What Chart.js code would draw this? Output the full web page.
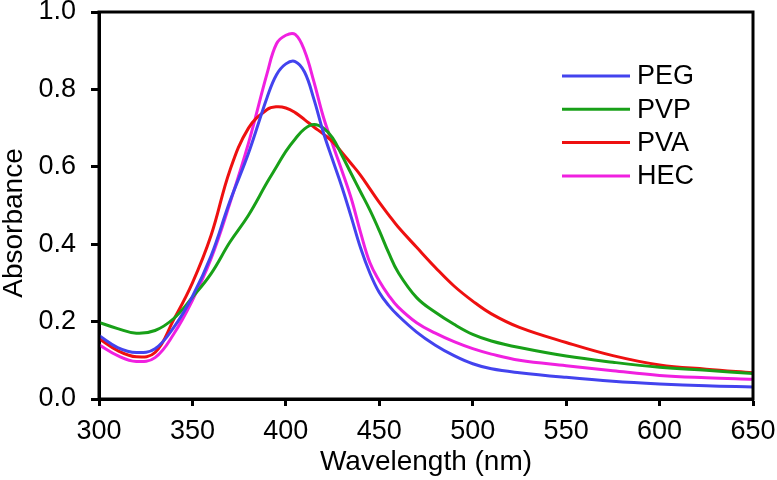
<!DOCTYPE html>
<html>
<head>
<meta charset="utf-8">
<script src="https://cdn.jsdelivr.net/npm/chart.js@4"></script>
<style>
  html, body { margin: 0; padding: 0; background: #fff; }
  #wrap { width: 777px; height: 480px; }
</style>
</head>
<body>
<div id="wrap"><canvas id="chart" width="777" height="480"></canvas></div>
<script>
// Longueurs d'onde (nm)
const wavelengths = [300, 310, 320, 330, 340, 350, 360, 370, 380, 390, 395, 400, 405, 410, 415, 420, 425, 430, 435, 440, 445, 450, 455, 460, 470, 480, 490, 500, 510, 525, 550, 575, 600, 625, 650];

// Absorbance par polymère
const peg = [0.164, 0.133, 0.120, 0.130, 0.185, 0.265, 0.370, 0.510, 0.635, 0.780, 0.838, 0.866, 0.872, 0.845, 0.775, 0.690, 0.618, 0.548, 0.470, 0.390, 0.325, 0.275, 0.242, 0.216, 0.173, 0.139, 0.112, 0.091, 0.078, 0.068, 0.056, 0.046, 0.039, 0.034, 0.031];
const pvp = [0.198, 0.182, 0.170, 0.177, 0.208, 0.263, 0.324, 0.405, 0.475, 0.560, 0.600, 0.640, 0.672, 0.698, 0.709, 0.700, 0.675, 0.630, 0.582, 0.535, 0.488, 0.435, 0.378, 0.328, 0.262, 0.224, 0.193, 0.167, 0.150, 0.133, 0.111, 0.095, 0.082, 0.074, 0.066];
const pva = [0.156, 0.125, 0.109, 0.120, 0.205, 0.300, 0.423, 0.590, 0.700, 0.748, 0.755, 0.752, 0.740, 0.722, 0.703, 0.685, 0.665, 0.637, 0.608, 0.578, 0.543, 0.508, 0.476, 0.445, 0.392, 0.340, 0.292, 0.253, 0.220, 0.185, 0.146, 0.112, 0.088, 0.077, 0.068];
const hec = [0.140, 0.112, 0.097, 0.107, 0.168, 0.255, 0.363, 0.505, 0.661, 0.842, 0.918, 0.940, 0.942, 0.900, 0.820, 0.730, 0.658, 0.590, 0.518, 0.430, 0.352, 0.305, 0.268, 0.238, 0.197, 0.170, 0.148, 0.130, 0.116, 0.100, 0.086, 0.073, 0.061, 0.055, 0.051];

const seriesLabels = ['PEG', 'PVP', 'PVA', 'HEC'];
const seriesColors = ['#4343ee', '#18a018', '#ee1010', '#f020e0'];
const seriesValues = [peg, pvp, pva, hec];

const yTicks = [0, 0.2, 0.4, 0.6, 0.8, 1.0];
const xTicks = [300, 350, 400, 450, 500, 550, 600, 650];

const FONT = "'Liberation Sans', Arial, sans-serif";

function toPoints(values) {
  return wavelengths.map((w, i) => ({ x: w, y: values[i] }));
}

// Cadre, titre de l'axe Y et légende
const framePlugin = {
  id: 'frame',
  afterDatasetsDraw(chart) {
    const { ctx, chartArea: a } = chart;
    ctx.save();
    ctx.strokeStyle = '#000';
    ctx.lineWidth = 3;
    ctx.strokeRect(a.left, a.top, a.right - a.left, a.bottom - a.top);

    // titre Y (décalé vers le bas comme dans l'original)
    ctx.fillStyle = '#000';
    ctx.font = '28px ' + FONT;
    ctx.textAlign = 'center';
    ctx.textBaseline = 'middle';
    ctx.translate(14, 223);
    ctx.rotate(-Math.PI / 2);
    ctx.fillText('Absorbance', 0, 0);
    ctx.restore();

    // légende
    ctx.save();
    ctx.font = '27px ' + FONT;
    ctx.textBaseline = 'middle';
    ctx.textAlign = 'left';
    chart.data.datasets.forEach((ds, i) => {
      const y = 76 + i * 33.3;
      ctx.strokeStyle = ds.borderColor;
      ctx.lineWidth = 3;
      ctx.beginPath();
      ctx.moveTo(562, y);
      ctx.lineTo(630, y);
      ctx.stroke();
      ctx.fillStyle = '#000';
      ctx.fillText(ds.label, 637, y + 1);
    });
    ctx.restore();
  }
};

new Chart(document.getElementById('chart'), {
  type: 'line',
  data: {
    datasets: seriesLabels.map((label, i) => ({
      label: label,
      data: toPoints(seriesValues[i]),
      borderColor: seriesColors[i],
      backgroundColor: seriesColors[i],
      borderWidth: 3,
      pointRadius: 0,
      fill: false,
      tension: 0.4
    }))
  },
  options: {
    responsive: false,
    animation: false,
    devicePixelRatio: 1,
    layout: { padding: { left: 0, right: 24, top: 12, bottom: 0 } },
    plugins: {
      legend: { display: false },
      tooltip: { enabled: false }
    },
    scales: {
      x: {
        type: 'linear',
        min: 300,
        max: 650,
        afterBuildTicks: (scale) => { scale.ticks = xTicks.map(v => ({ value: v })); },
        afterFit: (scale) => { scale.height = 81; scale.paddingLeft = 0; scale.paddingRight = 0; },
        grid: { drawOnChartArea: false, tickLength: 7, tickWidth: 3, color: '#000' },
        border: { display: true, width: 3, color: '#000' },
        ticks: {
          color: '#000',
          font: { family: FONT, size: 27 },
          padding: 9,
          maxRotation: 0
        },
        title: {
          display: true,
          text: 'Wavelength (nm)',
          color: '#000',
          font: { family: FONT, size: 28, lineHeight: 1 },
          padding: { top: 0, bottom: 4 }
        }
      },
      y: {
        min: 0,
        max: 1,
        afterBuildTicks: (scale) => { scale.ticks = yTicks.map(v => ({ value: v })); },
        afterFit: (scale) => { scale.width = 99; scale.paddingTop = 0; scale.paddingBottom = 0; },
        grid: { drawOnChartArea: false, tickLength: 8, tickWidth: 3, color: '#000' },
        border: { display: true, width: 3, color: '#000' },
        ticks: {
          color: '#000',
          font: { family: FONT, size: 27 },
          padding: 15,
          callback: (v) => Number(v).toFixed(1)
        },
        title: { display: false }
      }
    }
  },
  plugins: [framePlugin]
});
</script>
</body>
</html>
